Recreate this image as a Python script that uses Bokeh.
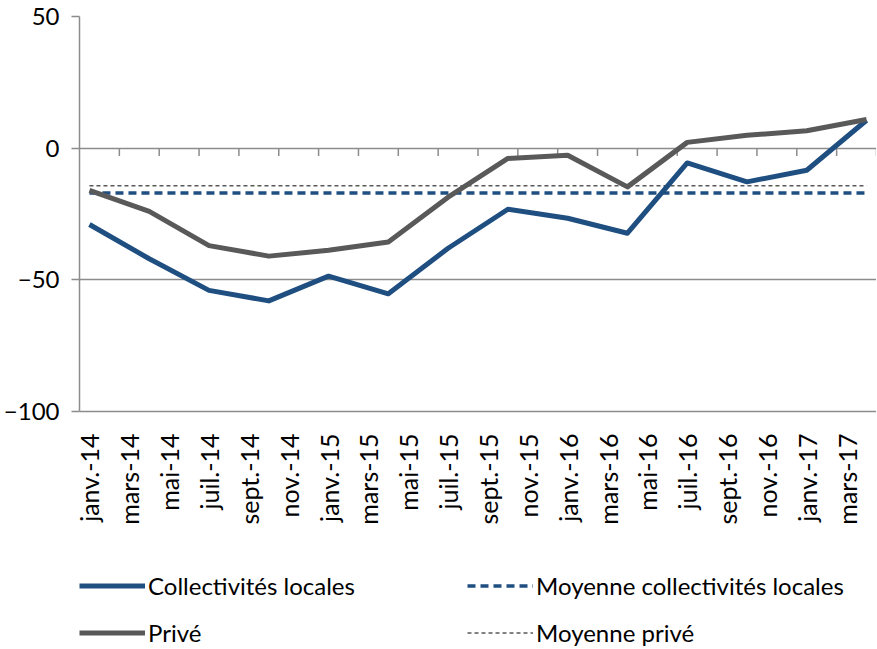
import math
from bokeh.plotting import figure
from bokeh.layouts import column
from bokeh.models import Range1d, FixedTicker, Legend, LegendItem
from bokeh.embed import file_html
from bokeh.resources import INLINE

# Monthly category axis (janv.-14 .. avr.-17)
months = ["janv.-14", "févr.-14", "mars-14", "avr.-14", "mai-14", "juin-14",
          "juil.-14", "août-14", "sept.-14", "oct.-14", "nov.-14", "déc.-14",
          "janv.-15", "févr.-15", "mars-15", "avr.-15", "mai-15", "juin-15",
          "juil.-15", "août-15", "sept.-15", "oct.-15", "nov.-15", "déc.-15",
          "janv.-16", "févr.-16", "mars-16", "avr.-16", "mai-16", "juin-16",
          "juil.-16", "août-16", "sept.-16", "oct.-16", "nov.-16", "déc.-16",
          "janv.-17", "févr.-17", "mars-17", "avr.-17"]

# Quarterly observations
quarters = ["janv.-14", "avr.-14", "juil.-14", "oct.-14",
            "janv.-15", "avr.-15", "juil.-15", "oct.-15",
            "janv.-16", "avr.-16", "juil.-16", "oct.-16",
            "janv.-17", "avr.-17"]
collectivites = [-29, -42, -54, -58, -48.6, -55.3, -38, -23.2,
                 -26.6, -32.3, -5.6, -12.8, -8.4, 10.6]
prive = [-16, -24, -37, -41, -38.8, -35.6, -18.6, -3.9,
         -2.7, -14.7, 2.2, 4.9, 6.6, 10.9]
moyenne_collectivites = -17.0
moyenne_prive = -14.3

y_ticks = [-100, -50, 0, 50]
# legend order (filled column by column: 2 rows x 2 columns)
legend_order = ["Collectivités locales", "Privé",
                "Moyenne collectivités locales", "Moyenne privé"]

FONT = "Lato"
BLUE = "#1f4e80"
GRAY = "#595959"
AXIS_GRAY = "#8c8c8c"

STYLES = {
    "Collectivités locales": dict(line_color=BLUE, line_width=5),
    "Moyenne collectivités locales": dict(line_color=BLUE, line_width=3.5, line_dash="8 5"),
    "Privé": dict(line_color=GRAY, line_width=5),
    "Moyenne privé": dict(line_color=GRAY, line_width=1.5, line_dash="4 3"),
}

xq = [months.index(q) for q in quarters]
series_y = {
    "Collectivités locales": collectivites,
    "Moyenne collectivités locales": [moyenne_collectivites] * len(xq),
    "Privé": prive,
    "Moyenne privé": [moyenne_prive] * len(xq),
}

p = figure(frame_width=797, frame_height=395, output_backend="svg", toolbar_location=None,
           x_range=Range1d(-0.5, len(months) - 0.5), y_range=Range1d(-100, 50),
           min_border_left=72, min_border_right=0, min_border_top=16, min_border_bottom=157)
p.outline_line_color = None
p.xgrid.grid_line_color = None
p.ygrid.grid_line_color = AXIS_GRAY
p.ygrid.grid_line_width = 1.5
p.ygrid.ticker = FixedTicker(ticks=y_ticks)

# y axis
p.yaxis.ticker = FixedTicker(ticks=y_ticks)
p.yaxis.axis_line_color = AXIS_GRAY
p.yaxis.axis_line_width = 1.5
p.yaxis.major_tick_line_color = AXIS_GRAY
p.yaxis.major_tick_line_width = 1.5
p.yaxis.major_tick_out = 8
p.yaxis.major_tick_in = 0
p.yaxis.minor_tick_line_color = None
p.yaxis.major_label_standoff = 12
p.yaxis.major_label_text_font = FONT
p.yaxis.major_label_text_font_size = "24px"
p.yaxis.major_label_text_color = "black"

# x axis
label_idx = list(range(0, len(months), 2))
p.xaxis.ticker = FixedTicker(ticks=label_idx)
p.xaxis.major_label_overrides = {i: months[i] for i in label_idx}
p.xaxis.major_label_orientation = math.pi / 2
p.xaxis.axis_line_color = AXIS_GRAY
p.xaxis.axis_line_width = 1.5
p.xaxis.major_tick_line_color = None
p.xaxis.minor_tick_line_color = None
p.xaxis.major_label_standoff = 16
p.xaxis.major_label_text_font = FONT
p.xaxis.major_label_text_font_size = "25px"
p.xaxis.major_label_text_color = "black"

# tick marks on the zero line (every two months, at category boundaries)
tick_pos = [i - 0.5 for i in range(2, len(months) + 1, 2)]
p.segment(x0=tick_pos, y0=[0] * len(tick_pos), x1=tick_pos, y1=[-3] * len(tick_pos),
          line_color=AXIS_GRAY, line_width=1.5)

for name in ["Moyenne collectivités locales", "Moyenne privé",
             "Collectivités locales", "Privé"]:
    p.line(xq, series_y[name], line_join="round", **STYLES[name])

# legend strip below the chart (its renderers lie outside its visible range)
lg = figure(width=869, height=81, output_backend="svg", toolbar_location=None,
            x_range=Range1d(1000, 1001), y_range=Range1d(1000, 1001),
            x_axis_location=None, y_axis_location=None,
            min_border_left=0, min_border_right=0, min_border_top=0, min_border_bottom=0)
lg.outline_line_color = None
lg.xgrid.grid_line_color = None
lg.ygrid.grid_line_color = None
items = []
for name in legend_order:
    r = lg.line(xq, series_y[name], **STYLES[name])
    items.append(LegendItem(label=name, renderers=[r]))

legend = Legend(items=items, ncols=2, location="center_left")
legend.border_line_color = None
legend.background_fill_alpha = 0
legend.label_text_font = FONT
legend.label_text_font_size = "24px"
legend.label_text_color = "black"
legend.glyph_width = 66
legend.glyph_height = 30
legend.label_height = 30
legend.label_width = 302
legend.label_standoff = 3
legend.spacing = 17
legend.padding = 0
legend.margin = 0
lg.add_layout(legend)

layout = column(p, lg, spacing=0)
open("out.html", "w").write(file_html(layout, INLINE))
